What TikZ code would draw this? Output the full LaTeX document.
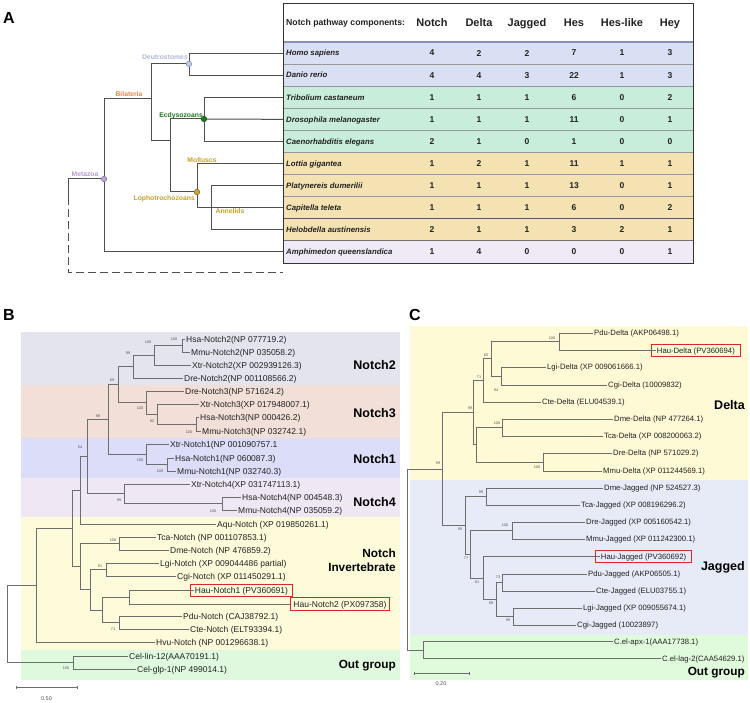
\documentclass[tikz,border=0pt]{standalone}
\usepackage{fontspec}
\setmainfont{Liberation Sans}
\definecolor{brc}{HTML}{6E6E6E}
\definecolor{treeA}{HTML}{505050}
\definecolor{bsc}{HTML}{555555}
\definecolor{hred}{HTML}{D42A2A}
\definecolor{rowBlue}{HTML}{D9E0F4}
\definecolor{rowGreen}{HTML}{C8EDDB}
\definecolor{rowTan}{HTML}{F4E2B2}
\definecolor{rowLav}{HTML}{EFEAF6}
\definecolor{hdrLine}{HTML}{8790B5}
\definecolor{bN2}{HTML}{E4E4EE}
\definecolor{bN3}{HTML}{F2DFD8}
\definecolor{bN1}{HTML}{DCDDF8}
\definecolor{bN4}{HTML}{EFE7F4}
\definecolor{bInv}{HTML}{FDFBDA}
\definecolor{bOut}{HTML}{DFF9DF}
\definecolor{cYel}{HTML}{FFFAD6}
\definecolor{cBlu}{HTML}{E7EAF7}
\definecolor{cGrn}{HTML}{E0FADC}
\definecolor{labDeut}{HTML}{AEB8DE}
\definecolor{labBil}{HTML}{E8874A}
\definecolor{labEcd}{HTML}{1E7A1E}
\definecolor{labLop}{HTML}{C9A02A}
\definecolor{labMeta}{HTML}{B39CD3}
\definecolor{dDeutF}{HTML}{C5CBE6}
\definecolor{dDeutD}{HTML}{8890B0}
\definecolor{dEcdF}{HTML}{1F7A1F}
\definecolor{dEcdD}{HTML}{1A5E1A}
\definecolor{dLopF}{HTML}{C9A43A}
\definecolor{dLopD}{HTML}{8A6D1A}
\definecolor{dMetF}{HTML}{B9A6D6}
\definecolor{dMetD}{HTML}{8A7AA8}
\definecolor{txt}{HTML}{222222}
\begin{document}
\begin{tikzpicture}[x=1pt,y=-1pt,
  br/.style={draw=brc,line width=0.7pt},
  abr/.style={draw=treeA,line width=1pt},
  lfB/.style={anchor=west,inner xsep=1.5pt,inner ysep=0pt,text=txt,font=\fontsize{8.5}{10}\selectfont,text height=6.1pt,text depth=0pt},
  lfC/.style={lfB,font=\fontsize{7.7}{9}\selectfont,text height=5.5pt},
  hau/.style={draw=hred,line width=0.9pt,inner ysep=3.2pt},
  bsl/.style={font=\fontsize{3.8}{4}\selectfont,text=bsc,inner sep=0pt},
  grp/.style={anchor=east,align=right,inner sep=0pt,font=\bfseries\fontsize{12.5}{14}\selectfont},
  grps/.style={grp,font=\bfseries\fontsize{11.8}{14}\selectfont},
  panel/.style={font=\bfseries\fontsize{16}{18}\selectfont,inner sep=0pt},
  cladeA/.style={font=\bfseries\fontsize{6.8}{8}\selectfont,inner sep=0pt,text height=5pt,text depth=0pt},
  dotA/.style={circle,inner sep=0pt,minimum size=5.5pt,line width=0.6pt},
  spc/.style={anchor=west,inner xsep=3pt,inner ysep=0pt,text=txt,font=\bfseries\itshape\fontsize{7.8}{9}\selectfont,text height=5.6pt,text depth=0pt},
  num/.style={font=\bfseries\fontsize{8.5}{10}\selectfont,inner sep=0pt,text=txt},
  colh/.style={font=\bfseries\fontsize{11}{12}\selectfont,inner sep=0pt,text height=7.9pt,text depth=0pt,text=txt},
  scl/.style={font=\fontsize{5.5}{6}\selectfont,text=bsc,inner sep=0pt}
]
\useasboundingbox (0,0) rectangle (750,703);
\fill[white] (0,0) rectangle (750,703);

%================ PANEL A =================
\node[panel] (pA) at (9,18) {A};
\fill[white] (283,3) rectangle (693,42);
\foreach \k/\c in {0/rowBlue,1/rowBlue,2/rowGreen,3/rowGreen,4/rowGreen,5/rowTan,6/rowTan,7/rowTan,8/rowTan,9/rowLav}
  \fill[\c] (283,{42+22.1*\k}) rectangle (693,{42+22.1*(\k+1)});
\foreach \k in {1,...,7}
  \draw[black!40,line width=0.6pt] (283,{42+22.1*\k}) -- (693,{42+22.1*\k});
\draw[black!65,line width=1.2pt] (283,{42+22.1*8}) -- (693,{42+22.1*8});
\draw[black!55,line width=0.9pt] (283,{42+22.1*9}) -- (693,{42+22.1*9});
\draw[hdrLine,line width=1.1pt] (283,42) -- (693,42);
\draw[black!80,line width=0.9pt] (283,3) rectangle (693,263);

\node[anchor=west,inner sep=0pt,text=txt,font=\bfseries\fontsize{8.7}{10}\selectfont,text height=6.2pt,text depth=0pt] (hdr) at (286,22.5) {Notch pathway components:};
\foreach \n/\xx/\t in {h1/432/Notch,h2/479/Delta,h3/527/Jagged,h4/574/Hes,h5/622/Hes-like,h6/670/Hey}
  \node[colh] (\n) at (\xx,22.5) {\t};

\foreach \k/\sp/\a/\b/\c/\d/\e/\f in {
  0/Homo sapiens/4/2/2/7/1/3,
  1/Danio rerio/4/4/3/22/1/3,
  2/Tribolium castaneum/1/1/1/6/0/2,
  3/Drosophila melanogaster/1/1/1/11/0/1,
  4/Caenorhabditis elegans/2/1/0/1/0/0,
  5/Lottia gigantea/1/2/1/11/1/1,
  6/Platynereis dumerilii/1/1/1/13/0/1,
  7/Capitella teleta/1/1/1/6/0/2,
  8/Helobdella austinensis/2/1/1/3/2/1,
  9/Amphimedon queenslandica/1/4/0/0/0/1}{
  \node[spc] (sp\k) at (283,{53.05+22.1*\k}) {\sp};
  \foreach \j/\v/\xx in {1/\a/432,2/\b/479,3/\c/527,4/\d/574,5/\e/622,6/\f/670}
    \node[num] (t\k-\j) at (\xx,{53.05+22.1*\k}) {\v};
}

% tree A
\node[dotA,fill=dDeutF,draw=dDeutD] (deut) at (189,63.9) {};
\node[dotA,fill=dEcdF,draw=dEcdD] (ecd) at (204,119) {};
\node[dotA,fill=dLopF,draw=dLopD] (lop) at (197,192) {};
\node[dotA,fill=dMetF,draw=dMetD] (meta) at (104,179) {};
\coordinate (bil) at (151,99);
\coordinate (proJ) at (170,141);
\coordinate (proT) at (170,119);
\coordinate (proB) at (170,192);
\coordinate (ann) at (211,207.5);
\coordinate (rootA) at (68,179);
\coordinate (dashA) at (68,197);
\coordinate (outA) at (283,273);
\begin{scope}[abr]
\draw (deut) |- (sp0.west);
\draw (deut) |- (sp1.west);
\draw (bil) |- (deut);
\draw (bil) |- (proJ);
\draw (ecd) |- (sp2.west);
\draw (ecd) -- (sp3.west);
\draw (ecd) |- (sp4.west);
\draw (ecd) -- (proT) -- (proB) -- (lop);
\draw (lop) |- (sp5.west);
\draw (lop) |- (sp7.west);
\draw (ann) |- (sp6.west);
\draw (ann) |- (sp8.west);
\draw (meta) |- (bil);
\draw (meta) |- (sp9.west);
\draw (rootA) -- (meta);
\draw (rootA) -- (dashA);
\draw[dash pattern=on 8pt off 4pt] (dashA) |- (outA);
\end{scope}
\node[cladeA,text=labDeut,anchor=east] (lDeut) at (188,57) {Deutrostomes};
\node[cladeA,text=labBil] (lBil) at (129,94) {Bilateria};
\node[cladeA,text=labEcd,anchor=east] (lEcd) at (203,115) {Ecdysozoans};
\node[cladeA,text=labLop] (lMol) at (202,160) {Molluscs};
\node[cladeA,text=labLop,anchor=east] (lLop) at (195,198.5) {Lophotrochozoans};
\node[cladeA,text=labLop] (lAnn) at (230,211.5) {Annelids};
\node[cladeA,text=labMeta] (lMet) at (85,174) {Metazoa};

%================ PANEL B =================
\node[panel] (pB) at (9,315) {B};
\fill[bN2] (21,332) rectangle (400,385);
\fill[bN3] (21,385) rectangle (400,437.5);
\fill[bN1] (21,437.5) rectangle (400,478);
\fill[bN4] (21,478) rectangle (400,517);
\fill[bInv] (21,517) rectangle (400,649.5);
\fill[bOut] (21,649.5) rectangle (400,680);

\foreach \n/\x/\y/\t in {
  b0/186/339/{Hsa-Notch2(NP 077719.2)},
  b1/191/352/{Mmu-Notch2(NP 035058.2)},
  b2/192/365/{Xtr-Notch2(XP 002939126.3)},
  b3/184/378/{Dre-Notch2(NP 001108566.2)},
  b4/185/391/{Dre-Notch3(NP 571624.2)},
  b5/200/404/{Xtr-Notch3(XP 017948007.1)},
  b6/200/417/{Hsa-Notch3(NP 000426.2)},
  b7/202/431/{Mmu-Notch3(NP 032742.1)},
  b8/170/444/{Xtr-Notch1(NP 001090757.1},
  b9/175/458/{Hsa-Notch1(NP 060087.3)},
  b10/177/471/{Mmu-Notch1(NP 032740.3)},
  b11/191/484/{Xtr-Notch4(XP 031747113.1)},
  b12/242/497/{Hsa-Notch4(NP 004548.3)},
  b13/238/510/{Mmu-Notch4(NP 035059.2)},
  b14/217/524/{Aqu-Notch (XP 019850261.1)},
  b15/157/537/{Tca-Notch (NP 001107853.1)},
  b16/170/550/{Dme-Notch (NP 476859.2)},
  b17/160/563/{Lgi-Notch (XP 009044486 partial)},
  b18/177/576/{Cgi-Notch (XP 011450291.1)},
  b21/183/616/{Pdu-Notch (CAJ38792.1)},
  b22/190/629/{Cte-Notch (ELT93394.1)},
  b23/156/642/{Hvu-Notch (NP 001296638.1)},
  b24/129/656/{Cel-lin-12(AAA70191.1)},
  b25/137/669/{Cel-glp-1(NP 499014.1)}}
  \node[lfB] (\n) at (\x-1.5,\y) {\t};
\node[lfB,hau,inner xsep=4.5pt] (b19) at (190,590.5) {Hau-Notch1 (PV360691)};
\node[lfB,hau,inner xsep=3pt] (b20) at (290,604) {Hau-Notch2 (PX097358)};
\coordinate (b19in) at ([xshift=3.5pt]b19.west);

\coordinate (n1) at (182,345.5);
\coordinate (n2) at (154,355.25);
\coordinate (n3) at (133,366.6);
\coordinate (n4) at (196,424);
\coordinate (n5) at (157,414);
\coordinate (n6) at (146,402.5);
\coordinate (n7) at (118,384.5);
\coordinate (n8) at (167,464.5);
\coordinate (n9) at (146,454.25);
\coordinate (n10) at (108,419.4);
\coordinate (n11) at (222,503.5);
\coordinate (n12) at (124,493.75);
\coordinate (n13) at (87,456.6);
\coordinate (n14) at (80,490.3);
\coordinate (n15) at (119,543.5);
\coordinate (n16) at (106,569.5);
\coordinate (n17) at (129,597.2);
\coordinate (n18) at (119,622.5);
\coordinate (n19) at (102,609.9);
\coordinate (n20) at (90,589.7);
\coordinate (n21) at (80,566.6);
\coordinate (n22) at (72,528.4);
\coordinate (n23) at (36,585.2);
\coordinate (n24) at (73,662.5);
\coordinate (rB) at (7,623.9);
\foreach \p/\c in {n1/b0.west,n1/b1.west,n2/n1,n2/b2.west,n3/n2,n3/b3.west,
  n4/b6.west,n4/b7.west,n5/b5.west,n5/n4,n6/b4.west,n6/n5,n7/n3,n7/n6,
  n8/b9.west,n8/b10.west,n9/b8.west,n9/n8,n10/n7,n10/n9,
  n11/b12.west,n11/b13.west,n12/b11.west,n12/n11,n13/n10,n13/n12,n14/n13,n14/b14.west,
  n15/b15.west,n15/b16.west,n16/b17.west,n16/b18.west,n17/b19in,n17/b20.west,
  n18/b21.west,n18/b22.west,n19/n17,n19/n18,n20/n16,n20/n19,n21/n15,n21/n20,
  n22/n14,n22/n21,n23/n22,n23/b23.west,n24/b24.west,n24/b25.west,rB/n23,rB/n24}
  \draw[br] (\p) |- (\c);

\foreach \n/\x/\y/\t in {bs1/174/339/100,bs2/148/342/100,bs3/128/353/99,bs4/112/380/69,
  bs5/140/408/100,bs6/152/421/92,bs7/189/432/100,bs8/98/416/99,bs9/80/447/54,
  bs10/140/460/100,bs11/160/471/100,bs12/119/500/99,bs13/213/511/100,
  bs14/113/540/100,bs15/100/566/91,bs16/113/629/71,bs17/66/668/100}
  \node[bsl] (\n) at (\x,\y) {\t};

\node[grp] (gN2) at (396,365) {Notch2};
\node[grp] (gN3) at (396,413) {Notch3};
\node[grp] (gN1) at (396,459) {Notch1};
\node[grp] (gN4) at (396,502) {Notch4};
\node[grps] (gInv) at (396,560) {Notch\\Invertebrate};
\node[grps] (gOutB) at (396,666) {Out group};

\coordinate (sbB1) at (16,687);
\coordinate (sbB2) at (77,687);
\draw[brc,line width=0.6pt] (sbB1) -- (sbB2);
\draw[brc,line width=0.6pt] ([yshift=-1.5pt]sbB1) -- ([yshift=1.5pt]sbB1);
\draw[brc,line width=0.6pt] ([yshift=-1.5pt]sbB2) -- ([yshift=1.5pt]sbB2);
\node[scl] (sbBt) at (46.5,699) {0.50};

%================ PANEL C =================
\node[panel] (pC) at (415,315) {C};
\fill[cYel] (410,326) rectangle (748,480);
\fill[cBlu] (410,480) rectangle (748,634.5);
\fill[cGrn] (410,634.5) rectangle (748,680);

\foreach \n/\x/\y/\t in {
  c0/594/333/{Pdu-Delta (AKP06498.1)},
  c2/547/367/{Lgi-Delta (XP 009061666.1)},
  c3/608/385/{Cgi-Delta (10009832)},
  c4/542/402/{Cte-Delta (ELU04539.1)},
  c5/614/419/{Dme-Delta (NP 477264.1)},
  c6/604/436/{Tca-Delta (XP 008200063.2)},
  c7/613/453/{Dre-Delta (NP 571029.2)},
  c8/603/471/{Mmu-Delta (XP 011244569.1)},
  c9/604/488/{Dme-Jagged (NP 524527.3)},
  c10/581/505/{Tca-Jagged (XP 008196296.2)},
  c11/586/522/{Dre-Jagged (XP 005160542.1)},
  c12/586/539/{Mmu-Jagged (XP 011242300.1)},
  c14/588/574/{Pdu-Jagged (AKP06505.1)},
  c15/596/591/{Cte-Jagged (ELU03755.1)},
  c16/583/608/{Lgi-Jagged (XP 009055674.1)},
  c17/577/625/{Cgi-Jagged (10023897)},
  c18/614/641.5/{C.el-apx-1(AAA17738.1)},
  c19/662/658.5/{C.el-lag-2(CAA54629.1)}}
  \node[lfC] (\n) at (\x-1.5,\y) {\t};
\node[lfC,hau,inner xsep=5.5pt] (c1) at (651,350.5) {Hau-Delta (PV360694)};
\node[lfC,hau,inner xsep=5.5pt] (c13) at (595,556.5) {Hau-Jagged (PV360692)};
\coordinate (c1in) at ([xshift=5pt]c1.west);
\coordinate (c13in) at ([xshift=5pt]c13.west);

\coordinate (d1) at (559,341.5);
\coordinate (d2) at (501,376);
\coordinate (d3) at (491,358.75);
\coordinate (d4) at (483,380.4);
\coordinate (d5) at (502,427.5);
\coordinate (d6) at (543,462);
\coordinate (d7) at (476,444.75);
\coordinate (d8) at (473,412.6);
\coordinate (d9) at (486,496.5);
\coordinate (d10) at (512,530.5);
\coordinate (d11) at (502,582.5);
\coordinate (d12) at (513,616.5);
\coordinate (d13) at (496,599.5);
\coordinate (d14) at (483,578);
\coordinate (d15) at (470,554.2);
\coordinate (d16) at (465,525.4);
\coordinate (d17) at (442,469);
\coordinate (d18) at (423,650);
\coordinate (rC) at (407,559.5);
\foreach \p/\c in {d1/c0.west,d1/c1in,d2/c2.west,d2/c3.west,d3/d1,d3/d2,d4/d3,d4/c4.west,
  d5/c5.west,d5/c6.west,d6/c7.west,d6/c8.west,d7/d5,d7/d6,d8/d4,d8/d7,
  d9/c9.west,d9/c10.west,d10/c11.west,d10/c12.west,d11/c14.west,d11/c15.west,
  d12/c16.west,d12/c17.west,d13/d11,d13/d12,d14/c13in,d14/d13,
  d15/d10,d15/d14,d16/d9,d16/d15,d17/d8,d17/d16,d18/c18.west,d18/c19.west,rC/d17,rC/d18}
  \draw[br] (\p) |- (\c);

\foreach \n/\x/\y/\t in {cs1/552/338/100,cs2/486/355/65,cs3/496/390/94,cs4/479/377/71,
  cs5/470/408/99,cs6/497/423/100,cs7/537/467/100,cs8/438/463/99,cs9/481/492/99,
  cs10/460/529/99,cs11/505/525/100,cs12/466/558/77,cs13/477/582/81,cs14/498/577/73,
  cs15/491/603/89,cs16/508/620/99}
  \node[bsl] (\n) at (\x,\y) {\t};

\node[grp] (gD) at (745,405) {Delta};
\node[grp] (gJ) at (745,567) {Jagged};
\node[grps] (gOutC) at (745,673) {Out group};

\coordinate (sbC1) at (414,673);
\coordinate (sbC2) at (469,673);
\draw[brc,line width=0.6pt] (sbC1) -- (sbC2);
\draw[brc,line width=0.6pt] ([yshift=-1.5pt]sbC1) -- ([yshift=1.5pt]sbC1);
\draw[brc,line width=0.6pt] ([yshift=-1.5pt]sbC2) -- ([yshift=1.5pt]sbC2);
\node[scl] (sbCt) at (441,683.5) {0.20};
\end{tikzpicture}
\end{document}
